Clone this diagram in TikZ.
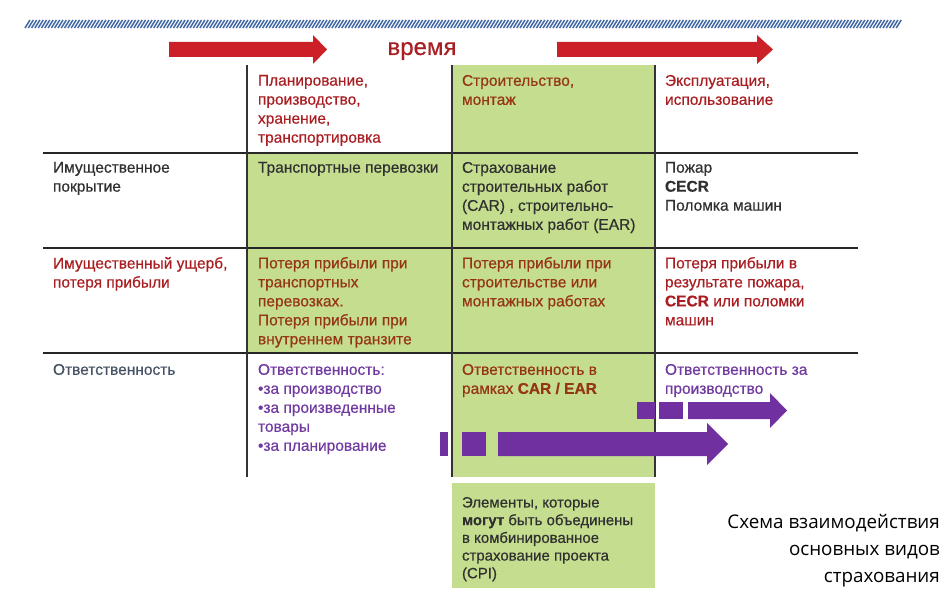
\documentclass[tikz,border=0pt]{standalone}
\usepackage{fontspec}
\setmainfont{Liberation Sans}[FakeBold=0.5]
\newfontfamily\captionfont{Open Sans}
\usetikzlibrary{positioning}
\definecolor{cellgreen}{RGB}{196,221,142}
\definecolor{timered}{RGB}{204,32,40}
\definecolor{hatchblue}{RGB}{66,104,165}
\definecolor{darkred}{RGB}{168,30,34}
\definecolor{brownred}{RGB}{150,52,22}
\definecolor{textgray}{RGB}{48,48,48}
\definecolor{bluegray}{RGB}{72,84,102}
\definecolor{liabpurple}{RGB}{112,58,160}
\definecolor{arrowpurple}{RGB}{112,48,160}

\begin{document}
\begin{tikzpicture}[x=1pt, y=-1pt, % pixel grid, y downwards
cell/.style = {anchor=north west, inner sep=0pt, outer sep=0pt,
               align=left, font=\fontsize{15.5}{19}\selectfont},
rule/.style = {line width=2pt, draw=black!85},
sep/.style  = {line width=1.4pt, draw=black!80},
hatch/.style = {line width=1.5pt, draw=hatchblue},
]
\useasboundingbox (0,0) rectangle (944,591);

	% hatched bar on top
	\foreach \x in {25,28.3,...,897}
		\draw[hatch] (\x,28) -- (\x+5,20);

	% time arrows
	\fill[timered] (169,42) -- (313,42) -- (313,35) -- (327,49.5)
		-- (313,64) -- (313,57) -- (169,57) -- cycle;
	\fill[timered] (557,42) -- (757,42) -- (757,35) -- (773,49.5)
		-- (757,64) -- (757,57) -- (557,57) -- cycle;
	\node[inner sep=0pt, anchor=base, text=darkred,
		font=\fontsize{24}{24}\selectfont] (time) at (422,55) {время};

	% green cells
	\fill[cellgreen] (452,65) rectangle (655,477);
	\fill[cellgreen] (247,153) rectangle (452,353);
	\fill[cellgreen] (452,483) rectangle (655,588);

	% table rules
	\foreach \y in {153,248,353}
		\draw[rule] (43,\y) -- (858,\y);
	\foreach \x in {247,452,655}
		\draw[sep] (\x,65) -- (\x,477);

	% header row
	\node[cell, text=darkred] (plan) at (258,75)
		{Планирование,\\производство,\\хранение,\\транспортировка};
	\node[cell, text=brownred] (build) at (462,75)
		{Строительство,\\монтаж};
	\node[cell, text=darkred] (use) at (665,75)
		{Эксплуатация,\\использование};

	% 1st row
	\node[cell, text=textgray] (prop) at (53,162)
		{Имущественное\\покрытие};
	\node[cell, text=textgray] (prop plan) at (258,162)
		{Транспортные перевозки};
	\node[cell, text=textgray] (prop build) at (462,162)
		{Страхование\\строительных работ\\(CAR) , строительно-\\монтажных работ (EAR)};
	\node[cell, text=textgray] (prop use) at (665,162)
		{Пожар\\\textbf{CECR}\\Поломка машин};

	% 2nd row
	\node[cell, text=darkred] (loss) at (53,257)
		{Имущественный ущерб,\\потеря прибыли};
	\node[cell, text=brownred] (loss plan) at (258,257)
		{Потеря прибыли при\\транспортных\\перевозках.\\Потеря прибыли при\\внутреннем транзите};
	\node[cell, text=brownred] (loss build) at (462,257)
		{Потеря прибыли при\\строительстве или\\монтажных работах};
	\node[cell, text=darkred] (loss use) at (665,257)
		{Потеря прибыли в\\результате пожара,\\\textbf{CECR} или поломки\\машин};

	% 3rd row
	\node[cell, text=bluegray] (liab) at (53,364)
		{Ответственность};
	\node[cell, text=liabpurple] (liab plan) at (258,364)
		{Ответственность:\\•за производство\\•за произведенные\\товары\\•за планирование};
	\node[cell, text=brownred] (liab build) at (462,364)
		{Ответственность в\\рамках \textbf{CAR / EAR}};
	\node[cell, text=liabpurple] (liab use) at (665,364)
		{Ответственность за\\производство};

	% liability arrows
	\fill[arrowpurple] (440,432) rectangle (448,456);
	\fill[arrowpurple] (462,432) rectangle (486,456);
	\fill[arrowpurple] (498,432) -- (707,432) -- (707,423) -- (728,444)
		-- (707,465) -- (707,456) -- (498,456) -- cycle;
	\fill[arrowpurple] (637,402) rectangle (655,419);
	\fill[arrowpurple] (659,402) rectangle (683,419);
	\fill[arrowpurple] (688,402) -- (770,402) -- (770,393) -- (787,410.5)
		-- (770,428) -- (770,419) -- (688,419) -- cycle;

	% combined project box
	\node[cell, text=textgray, font=\fontsize{15}{17.7}\selectfont] (cpi) at (462,497)
		{Элементы, которые\\\textbf{могут} быть объединены\\в комбинированное\\страхование проекта\\(CPI)};

	% caption
	\node[inner sep=0pt, anchor=north east, align=right, text=black,
		font=\captionfont\fontsize{18.8}{27}\selectfont] (caption) at (940,514)
		{Схема взаимодействия\\основных видов\\страхования};
\end{tikzpicture}
\end{document}
